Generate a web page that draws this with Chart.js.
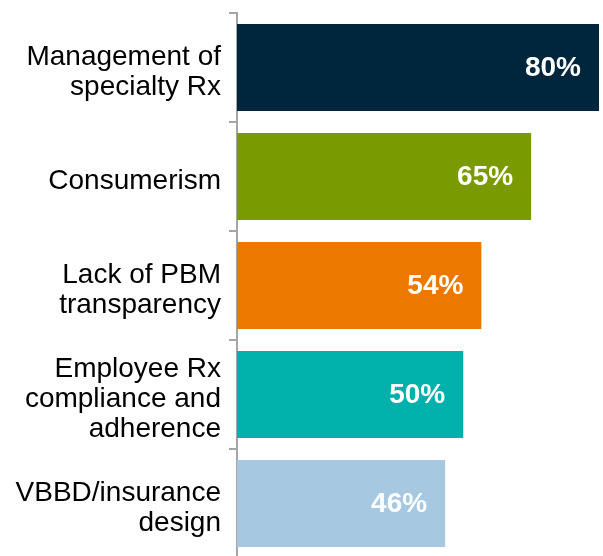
<!DOCTYPE html>
<html lang="en">
<head>
    <meta charset="UTF-8">
    <title>Rx priorities</title>
    <script src="https://cdn.jsdelivr.net/npm/chart.js"></script>
    <style>
        html, body {
            margin: 0;
            padding: 0;
            background: #ffffff;
            overflow: hidden;
        }
        .chart-box {
            position: relative;
            width: 603px;
            height: 560px;
        }
    </style>
</head>
<body>
    <div class="chart-box">
        <canvas id="barChart"></canvas>
    </div>

    <script>
        // categories and values
        const categories = [
            ['Management of', 'specialty Rx'],
            'Consumerism',
            ['Lack of PBM', 'transparency'],
            ['Employee Rx', 'compliance and', 'adherence'],
            ['VBBD/insurance', 'design']
        ];
        const percents = [80, 65, 54, 50, 46];
        const barColors = ['#00263e', '#7a9a01', '#ed7800', '#00b0aa', '#a6c8e1'];

        // white % labels inside the bar ends
        const insideLabels = {
            id: 'insideLabels',
            afterDatasetsDraw(chart) {
                const ctx = chart.ctx;
                const meta = chart.getDatasetMeta(0);
                ctx.save();
                ctx.fillStyle = '#ffffff';
                ctx.font = 'bold 28px "Liberation Sans", Arial, sans-serif';
                ctx.textAlign = 'right';
                ctx.textBaseline = 'middle';
                meta.data.forEach((bar, i) => {
                    ctx.fillText(percents[i] + '%', bar.x - 18, bar.y + 1);
                });
                ctx.restore();
            }
        };

        new Chart(document.getElementById('barChart'), {
            type: 'bar',
            data: {
                labels: categories,
                datasets: [{
                    data: percents,
                    backgroundColor: barColors,
                    barPercentage: 0.8,
                    categoryPercentage: 1.0
                }]
            },
            options: {
                indexAxis: 'y',
                responsive: true,
                maintainAspectRatio: false,
                animation: false,
                layout: {
                    padding: { top: 13, right: 4, bottom: 2, left: 0 }
                },
                plugins: {
                    legend: { display: false },
                    tooltip: { enabled: false }
                },
                scales: {
                    x: {
                        display: false,
                        min: 0,
                        max: 80
                    },
                    y: {
                        afterFit(scale) {
                            scale.width = 237;
                            // labels may spill past the ends, don't reserve room for it
                            scale.paddingTop = 0;
                            scale.paddingBottom = 0;
                        },
                        grid: {
                            drawOnChartArea: false,
                            drawTicks: true,
                            tickLength: 8,
                            color: '#a6a6a6',
                            lineWidth: 2,
                            offset: true
                        },
                        border: { color: '#a6a6a6', width: 2 },
                        ticks: {
                            color: '#000000',
                            padding: 8,
                            labelOffset: 5,
                            font: { family: '"Liberation Sans", Arial, sans-serif', size: 28, lineHeight: 1.08 }
                        }
                    }
                }
            },
            plugins: [insideLabels]
        });
    </script>
</body>
</html>
